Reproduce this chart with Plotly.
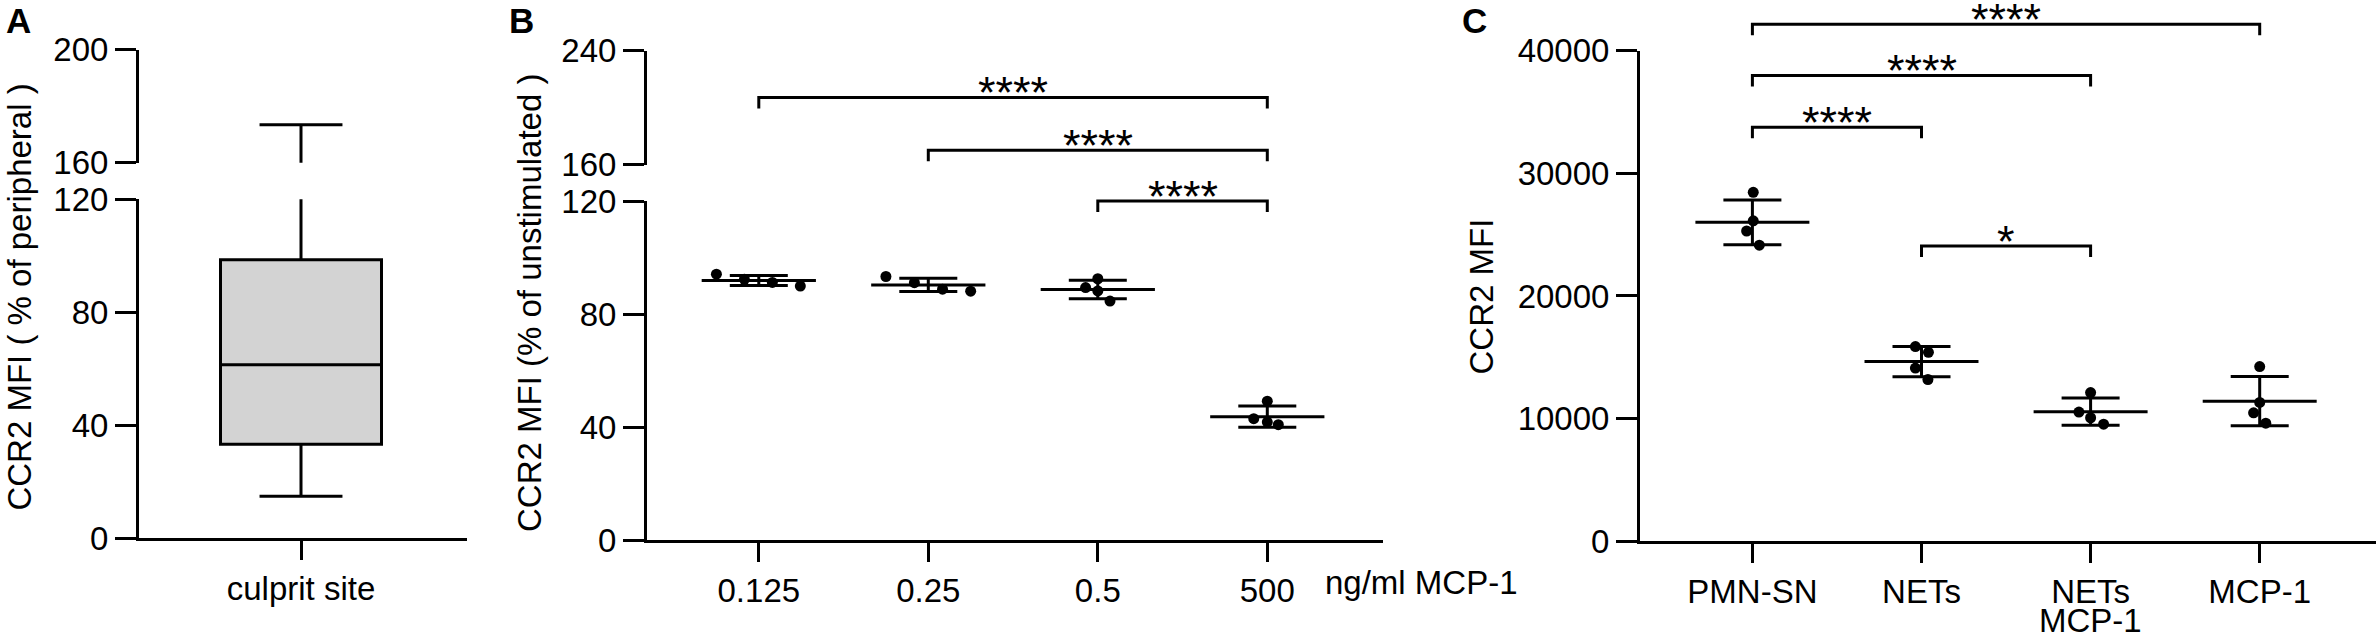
import numpy as np
import plotly.graph_objects as go

# ---- panel A: CCR2 at the culprit site (box summary)
A_LABEL = ["culprit site"]
A_Q1 = [33.2]
A_MEDIAN = [61.4]
A_Q3 = [98.6]
A_LOWER = [14.8]
A_UPPER = [173.4]

# ---- panel B: CCR2 after MCP-1 doses, % of unstimulated
B_DOSES = ["0.125", "0.25", "0.5", "500"]
B_VALUES = [
    [94.1, 92.3, 91.2, 89.9],
    [93.3, 91.1, 88.8, 88.1],
    [92.5, 89.4, 88.2, 84.6],
    [49.2, 43.0, 41.8, 40.9],
]
B_SPREAD = [
    [-0.25, -0.085, 0.08, 0.245],
    [-0.25, -0.082, 0.084, 0.25],
    [0.0, -0.072, 0.0, 0.072],
    [0.0, -0.08, 0.0, 0.065],
]
# (from, to, level, label)
B_BRACKETS = [(0, 3, 207.3, "****"), (1, 3, 170.2, "****"), (2, 3, 120.0, "****")]

# ---- panel C: CCR2 MFI per stimulus
C_GROUPS = ["PMN-SN", "NETs", "NETs<br>MCP-1", "MCP-1"]
C_VALUES = [
    [28460, 26130, 25300, 24140],
    [15870, 15400, 14110, 13180],
    [12110, 10520, 10060, 9530],
    [14240, 11310, 10460, 9620],
]
C_SPREAD = [
    [0.005, 0.005, -0.034, 0.041],
    [-0.036, 0.041, -0.036, 0.038],
    [0.0, -0.069, 0.0, 0.077],
    [0.0, 0.0, -0.036, 0.036],
]
C_BRACKETS = [(0, 1, 33770, "****"), (0, 2, 37990, "****"), (0, 3, 42170, "****"), (1, 2, 24070, "*")]

W, H = 2379, 638
FONT = "Arial, Liberation Sans, sans-serif"
TICK_FONT = dict(family=FONT, size=33, color="black")
STAR_FONT = dict(family=FONT, size=45, color="black")
DROP_PX = 11
LABEL_LINE_PX = 36   # tighter line spacing than plotly's <br> for two-line categories


def fx(p):
    return p / W


def fy(p):
    return 1 - p / H


def seg_domain(bottom_px, top_px):
    return [fy(bottom_px), fy(top_px)]


base = dict(showgrid=False, zeroline=False, showline=True, linecolor="black", linewidth=3,
            ticks="outside", tickwidth=3, tickcolor="black", tickfont=TICK_FONT, automargin=False)


def xax(domain, rng, anchor, labels):
    return dict(base, domain=domain, range=rng, anchor=anchor, ticklen=19,
                tickmode="array", tickvals=list(range(len(labels))),
                ticktext=[lab.split("<br>")[0] for lab in labels])


def yax(domain, rng, anchor, vals):
    return dict(base, domain=domain, range=rng, anchor=anchor, ticklen=21,
                tickmode="array", tickvals=vals, tickformat="d")


def break_tick(over, anchor, rng, val):
    # short inside tick marking the axis break
    return dict(overlaying=over, anchor=anchor, range=rng, tickmode="array", tickvals=[val],
                ticks="inside", ticklen=14, tickwidth=3, tickcolor="black", automargin=False,
                showticklabels=False, showline=False, showgrid=False, zeroline=False)


def hidden(domain, rng, anchor):
    return dict(domain=domain, range=rng, anchor=anchor, visible=False, automargin=False)


def mean_sd(values, xa, ya):
    arr = np.array(values, dtype=float)
    return go.Scatter(
        x=list(range(len(values))), y=arr.mean(axis=1), xaxis=xa, yaxis=ya, mode="markers",
        marker=dict(size=1, color="rgba(0,0,0,0)"), hoverinfo="skip", showlegend=False,
        error_x=dict(type="constant", value=0.337, width=0, thickness=3, color="black"),
        error_y=dict(type="data", array=arr.std(axis=1, ddof=1), width=29, thickness=3, color="black"),
    )


def dots(values, spread, xa, ya):
    xs, ys = [], []
    for i, (vals, offs) in enumerate(zip(values, spread)):
        xs += [i + o for o in offs]
        ys += vals
    return go.Scatter(x=xs, y=ys, xaxis=xa, yaxis=ya, mode="markers",
                      marker=dict(size=11, color="black"), hoverinfo="skip", showlegend=False)


fig = go.Figure()
annotations = []

# ---------------- panel A ----------------
A_LO = seg_domain(538, 199.3)
A_HI = seg_domain(162.7, 49.6)
for ya in ["y", "y2"]:
    fig.add_trace(go.Box(
        x=[0], q1=A_Q1, median=A_MEDIAN, q3=A_Q3, lowerfence=A_LOWER, upperfence=A_UPPER,
        orientation="v", width=1, whiskerwidth=0.515, boxpoints=False,
        fillcolor="#d3d3d3", line=dict(color="black", width=3),
        xaxis="x", yaxis=ya, hoverinfo="skip", showlegend=False,
    ))

# ---------------- panel B ----------------
B_LO = seg_domain(540.3, 201)
B_HI = seg_domain(164.7, 50.9)
B_BR = seg_domain(540.3, 164.7)
b_br_top = 120 * (540.3 - 164.7) / (540.3 - 201)
fig.add_trace(mean_sd(B_VALUES, "x2", "y5"))
fig.add_trace(dots(B_VALUES, B_SPREAD, "x2", "y5"))

# ---------------- panel C ----------------
C_MAIN = seg_domain(541, 50.9)
C_BR = seg_domain(541, 0)
c_br_top = 40000 * 541 / (541 - 50.9)
fig.add_trace(mean_sd(C_VALUES, "x3", "y10"))
fig.add_trace(dots(C_VALUES, C_SPREAD, "x3", "y10"))

# second lines of two-line category labels
for i, lab in enumerate(C_GROUPS):
    for k, line in enumerate(lab.split("<br>")[1:], start=1):
        annotations.append(dict(x=i, y=fy(584 + k * LABEL_LINE_PX), xref="x3", yref="paper",
                                text=line, showarrow=False, xanchor="center", yanchor="middle",
                                borderpad=0, font=TICK_FONT))


def brackets(items, xa, pick):
    for i, j, level, label in items:
        ya, rng, dom = pick(level)
        drop = DROP_PX * (rng[1] - rng[0]) / ((dom[1] - dom[0]) * H)
        fig.add_trace(go.Scatter(
            x=[i, i, j, j], y=[level - drop, level, level, level - drop], xaxis=xa, yaxis=ya,
            mode="lines", line=dict(color="black", width=3), hoverinfo="skip", showlegend=False,
        ))
        annotations.append(dict(
            x=(i + j) / 2, y=level, xref=xa, yref=ya, text=label, showarrow=False,
            xanchor="center", yanchor="middle", yshift=5, borderpad=0, font=STAR_FONT,
        ))


brackets(B_BRACKETS, "x2",
         lambda v: ("y6", [160, 240], B_HI) if v >= 160 else ("y7", [0, b_br_top], B_BR))
brackets(C_BRACKETS, "x3", lambda v: ("y11", [0, c_br_top], C_BR))

# ---------------- text ----------------
for letter, px in [("A", 18.3), ("B", 521.8), ("C", 1474.4)]:
    annotations.append(dict(x=fx(px), y=fy(20.3), xref="paper", yref="paper", text=f"<b>{letter}</b>",
                            showarrow=False, xanchor="center", yanchor="middle",
                            font=dict(family=FONT, size=35, color="black")))

for title, px, py in [("CCR2 MFI ( % of peripheral )", 19.6, 297),
                      ("CCR2 MFI (% of unstimulated )", 529, 303),
                      ("CCR2 MFI", 1481.5, 297)]:
    annotations.append(dict(x=fx(px), y=fy(py), xref="paper", yref="paper", text=title,
                            textangle=-90, showarrow=False, xanchor="center", yanchor="middle",
                            font=TICK_FONT))

annotations.append(dict(x=fx(1322.8), y=fy(582.4), xref="paper", yref="paper", text="ng/ml MCP-1",
                        showarrow=False, xanchor="left", yanchor="middle", font=TICK_FONT))

fig.update_layout(
    width=W, height=H, margin=dict(l=0, r=0, t=0, b=0, autoexpand=False),
    paper_bgcolor="white", plot_bgcolor="rgba(0,0,0,0)", showlegend=False,
    font=dict(family=FONT, color="black"),
    annotations=annotations,
    # A
    xaxis=xax([fx(139), fx(467)], [(139 - 301) / 161, (467 - 301) / 161], "y", A_LABEL),
    yaxis=yax(A_LO, [0, 120], "x", [0, 40, 80, 120]),
    yaxis2=yax(A_HI, [160, 200], "x", [160, 200]),
    yaxis3=break_tick("y", "x", [0, 120], 120),
    yaxis4=break_tick("y2", "x", [160, 200], 160),
    # B
    xaxis2=xax([fx(647), fx(1382.6)], [(647 - 758.8) / 169.5, (1382.6 - 758.8) / 169.5], "y5", B_DOSES),
    yaxis5=yax(B_LO, [0, 120], "x2", [0, 40, 80, 120]),
    yaxis6=yax(B_HI, [160, 240], "x2", [160, 240]),
    yaxis7=hidden(B_BR, [0, b_br_top], "x2"),
    yaxis8=break_tick("y5", "x2", [0, 120], 120),
    yaxis9=break_tick("y6", "x2", [160, 240], 160),
    # C
    xaxis3=xax([fx(1640), fx(2376)], [(1640 - 1752.4) / 169.1, (2376 - 1752.4) / 169.1], "y10", C_GROUPS),
    yaxis10=yax(C_MAIN, [0, 40000], "x3", [0, 10000, 20000, 30000, 40000]),
    yaxis11=hidden(C_BR, [0, c_br_top], "x3"),
)

# the page's default body margin would push the figure 8 px off the window
fig.write_html("out.html", config={"displayModeBar": False},
               post_script="document.body.style.margin = '0';")
